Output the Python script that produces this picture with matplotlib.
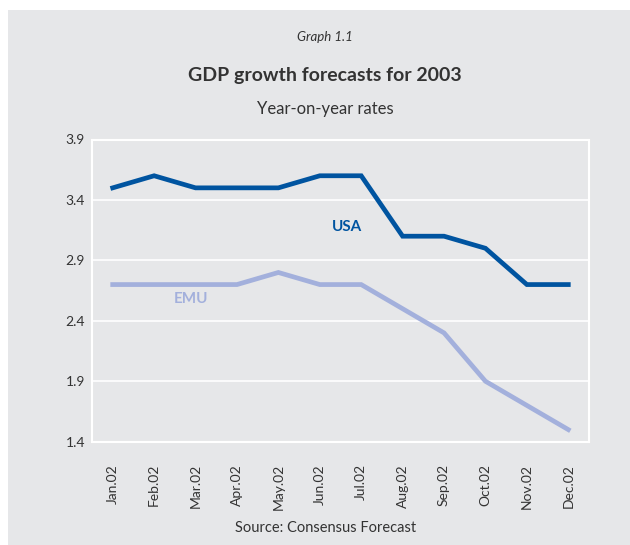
import numpy as np
import matplotlib.pyplot as plt
from matplotlib.patches import Rectangle

plt.rcParams['font.family'] = ['Lato', 'DejaVu Sans']

months = ['Jan.02', 'Feb.02', 'Mar.02', 'Apr.02', 'May.02', 'Jun.02',
          'Jul.02', 'Aug.02', 'Sep.02', 'Oct.02', 'Nov.02', 'Dec.02']
usa = [3.5, 3.6, 3.5, 3.5, 3.5, 3.6, 3.6, 3.1, 3.1, 3.0, 2.7, 2.7]
emu = [2.7, 2.7, 2.7, 2.7, 2.8, 2.7, 2.7, 2.5, 2.3, 1.9, 1.7, 1.5]
yticks = [1.4, 1.9, 2.4, 2.9, 3.4, 3.9]

bg = '#e6e7e9'
dark = '#0054a0'
light = '#a3b0dc'
txt = '#333333'

fig = plt.figure(figsize=(6.3, 5.45), dpi=100, facecolor='white')
# grey panel behind everything, white margin top and left
fig.patches.append(Rectangle((8 / 630, 0), 1, 535 / 545, transform=fig.transFigure,
                             facecolor=bg, edgecolor='none', zorder=-10))

ax = fig.add_axes([92 / 630, 103.3 / 545, 497 / 630, 302.2 / 545])
ax.set_facecolor(bg)

x = np.arange(len(months))
ax.plot(x, usa, color=dark, lw=3.4, solid_joinstyle='miter', zorder=3)
ax.plot(x, emu, color=light, lw=3.4, solid_joinstyle='miter', zorder=3)

ax.text(5.65, 3.18, 'USA', color=dark, fontsize=11, fontweight='bold',
        ha='center', va='center')
ax.text(1.9, 2.58, 'EMU', color=light, fontsize=11, fontweight='bold',
        ha='center', va='center')

ax.set_xlim(-0.5, 11.5)
ax.set_ylim(1.4, 3.9)
ax.set_yticks(yticks)
ax.set_yticklabels([f'{v:.1f}' for v in yticks])
ax.set_xticks(x)
ax.set_xticklabels(months, rotation=90)
ax.tick_params(axis='both', length=0, labelsize=10, colors=txt)
ax.tick_params(axis='x', pad=16)
ax.tick_params(axis='y', pad=5)
ax.grid(axis='y', color='white', lw=1.2)
ax.set_axisbelow(True)
for s in ax.spines.values():
    s.set_color('white')
    s.set_linewidth(1.5)

fig.text(0.516, 1 - 37 / 545, 'Graph 1.1', ha='center', va='center',
         fontsize=9.5, style='italic', color=txt)
fig.text(0.516, 1 - 76 / 545, 'GDP growth forecasts for 2003', ha='center', va='center',
         fontsize=14, fontweight='bold', color=txt)
fig.text(0.516, 1 - 109 / 545, 'Year-on-year rates', ha='center', va='center',
         fontsize=12, color=txt)
fig.text(0.516, 1 - 528 / 545, 'Source: Consensus Forecast', ha='center', va='center',
         fontsize=10.5, color=txt)

fig.savefig('out.png', dpi=100, facecolor='white')
